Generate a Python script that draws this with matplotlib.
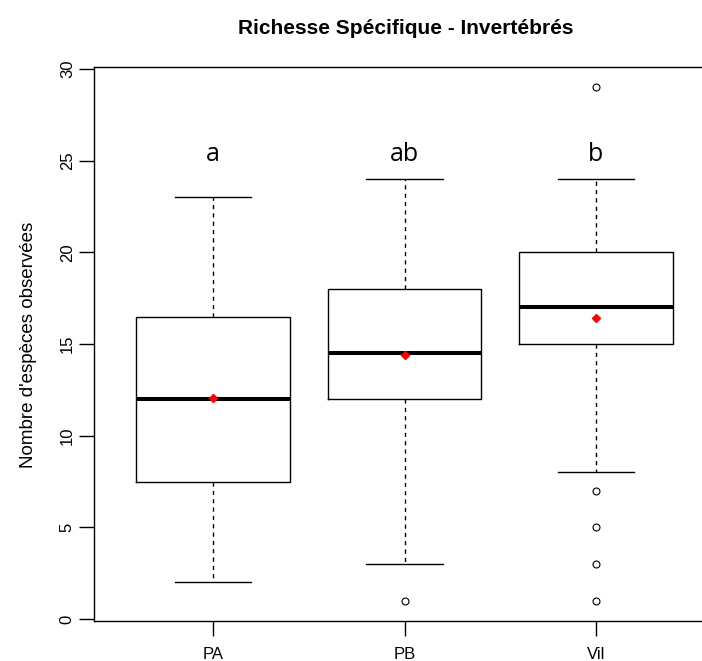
import matplotlib
matplotlib.use("Agg")
import matplotlib.pyplot as plt

# ---- data ----
groups = ["PA", "PB", "Vil"]
whislo = [2, 3, 8]
q1 = [7.5, 12, 15]
med = [12, 14.5, 17]
q3 = [16.5, 18, 20]
whishi = [23, 24, 24]
means = [12.05, 14.4, 16.45]
fliers = [[], [1], [29, 7, 5, 3, 1]]
letters = ["a", "ab", "b"]
letter_y = [25, 25, 25]
yticks = [0, 5, 10, 15, 20, 25, 30]

title = "Richesse Spécifique - Invertébrés"
ylabel = "Nombre d'espèces observées"

plt.rcParams['font.family'] = ['Liberation Sans', 'DejaVu Sans']

fig = plt.figure(figsize=(7.02, 6.61), dpi=100)
ax = fig.add_axes([94.3 / 702, 1 - 620.5 / 661, 620.4 / 702, 553.2 / 661])

positions = list(range(1, len(groups) + 1))
stats = []
for i, g in enumerate(groups):
    stats.append(dict(label=g, whislo=whislo[i], q1=q1[i], med=med[i],
                      q3=q3[i], whishi=whishi[i], fliers=fliers[i], mean=means[i]))

ax.bxp(stats, positions=positions, widths=0.8, capwidths=0.4,
       showmeans=True, showfliers=True,
       boxprops=dict(color='black', linewidth=1.0),
       medianprops=dict(color='black', linewidth=2.9, solid_capstyle='butt'),
       whiskerprops=dict(color='black', linewidth=1.0, linestyle=(0, (3, 3))),
       capprops=dict(color='black', linewidth=1.0),
       flierprops=dict(marker='o', markerfacecolor='none', markeredgecolor='black',
                       markersize=5, markeredgewidth=0.8, linestyle='none'),
       meanprops=dict(marker='D', markerfacecolor='red', markeredgecolor='red',
                      markersize=3.6))

for p, lt, ly in zip(positions, letters, letter_y):
    ax.text(p, ly, lt, ha='center', va='baseline', fontsize=18,
            family=['Open Sans', 'DejaVu Sans'])

ax.set_xlim(0.38, 3.62)
ax.set_ylim(-0.08, 30.1)
ax.set_xticks(positions)
ax.set_xticklabels(groups)
ax.set_yticks(yticks)
ax.set_yticklabels([str(t) for t in yticks], rotation=90, va='center')
ax.tick_params(axis='both', length=11, width=1.0, color='black', labelsize=12)
ax.tick_params(axis='y', pad=3)
ax.tick_params(axis='x', pad=8)
for s in ax.spines.values():
    s.set_linewidth(1.0)
    s.set_color('black')

fig.text(29 / 702, 1 - 345 / 661, ylabel, rotation=90, ha='center', va='center', fontsize=13.5)
fig.text(406 / 702, 1 - 28 / 661, title, ha='center', va='center', fontsize=15,
         fontweight='bold')

fig.savefig("out.png", dpi=100)
